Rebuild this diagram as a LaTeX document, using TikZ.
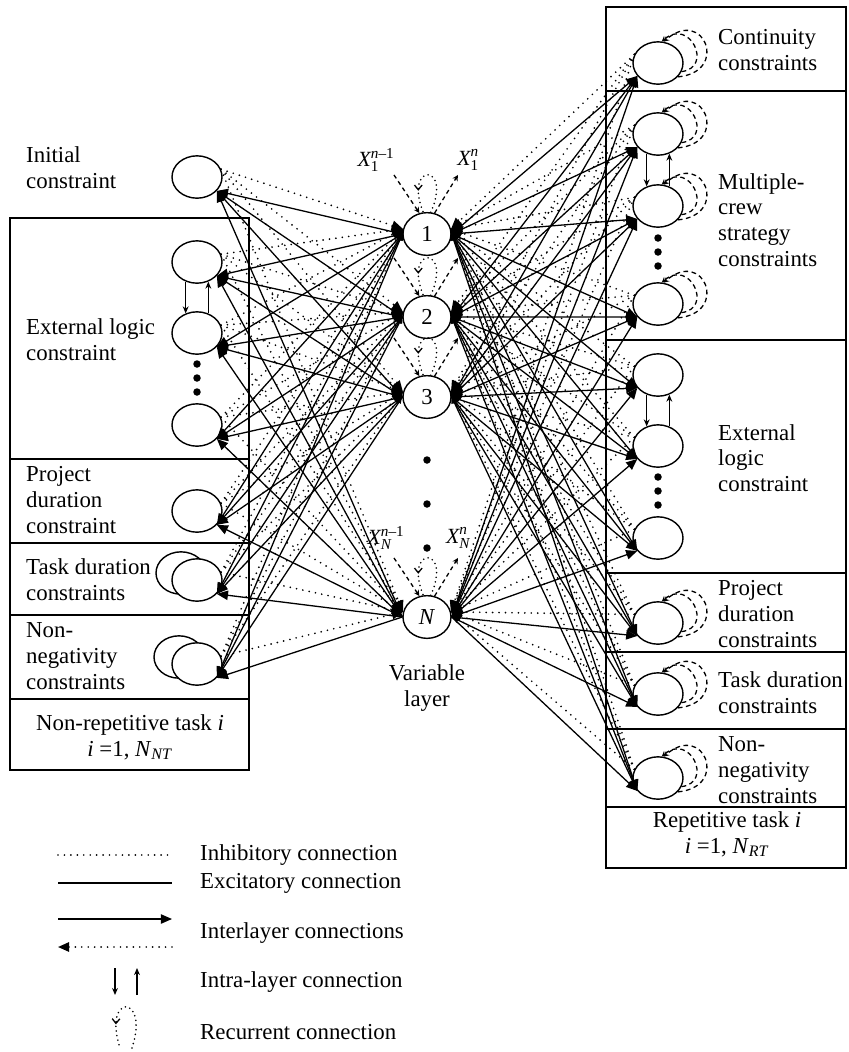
\documentclass[tikz,border=0pt]{standalone}
\usepackage{amsmath}
\usepackage{fontspec}
\setmainfont{Liberation Serif}
\usetikzlibrary{shapes.geometric,arrows.meta,decorations.markings}
\newcommand{\xlab}[2]{$\textit{X}^{#2}_{#1}$}
\begin{document}
\begin{tikzpicture}[x=0.03cm,y=-0.03cm,
  every node/.style={font=\fontsize{19.5}{22}\selectfont},
  unit/.style={ellipse,draw,line width=1.2pt,fill=white,inner sep=0pt,minimum width=1.5cm,minimum height=1.27cm},
  var/.style={unit,minimum width=1.44cm,minimum height=1.28cm},
  lbl/.style={align=left,anchor=west,inner sep=0pt},
  captext/.style={align=center,inner sep=0pt},
  xtext/.style={font=\fontsize{18.5}{21}\selectfont,inner sep=0pt},
  panel/.style={draw,line width=1.1pt},
  exc/.style={line width=1.1pt,-{Triangle[length=9.5pt,width=8pt]}},
  inh/.style={line width=1.6pt,line cap=round,dash pattern=on 0pt off 5.5pt,-{Triangle[length=9.5pt,width=8pt]}},
  intra/.style={line width=1.1pt,-{Stealth[length=6pt,width=5pt]}},
  selfloop/.style={line width=1.1pt,dash pattern=on 4pt off 3pt,-{Stealth[length=4.5pt,width=4.5pt]}},
  feed/.style={line width=1.1pt,dash pattern=on 3.5pt off 3pt,-{Stealth[length=5pt,width=5pt,open]}},
  recur/.style={line width=1.5pt,line cap=round,dash pattern=on 0pt off 4pt,
    decoration={markings,mark=at position 0.74 with {\arrow{Straight Barb[length=4pt,width=6.5pt,line width=1.1pt]}}},
    postaction={decorate}},
  bigdot/.style={fill=black}
]
\useasboundingbox (0,0) rectangle (849,1052);

% ---------- panels ----------
\draw[panel] (10,218) rectangle (249,770);
\foreach \yy in {459,543,615,699} \draw[panel] (10,\yy) -- (249,\yy);
\draw[panel] (606,7) rectangle (846,868);
\foreach \yy in {91,340,573,652,729,807} \draw[panel] (606,\yy) -- (846,\yy);

% ---------- non-repetitive task units ----------
\node[unit] (lInit) at (197,177) {};
\node[unit] (lE1) at (197,262) {};
\node[unit] (lE2) at (197,333) {};
\node[unit] (lE3) at (197,425) {};
\node[unit] (lPD) at (197,511) {};
\node[unit] (lTDb) at (181,573) {};
\node[unit] (lTD) at (197,580) {};
\node[unit] (lNNb) at (179,657) {};
\node[unit] (lNN) at (197,664) {};
\foreach \yy in {364,378,392} \fill[bigdot] (197,\yy) circle[radius=3.2pt];

\node[lbl] (tInit) at (26,168) {Initial\\constraint};
\node[lbl] (tLE) at (26,340) {External logic\\constraint};
\node[lbl] (tLP) at (26,500) {Project\\duration\\constraint};
\node[lbl] (tLT) at (26,580) {Task duration\\constraints};
\node[lbl] (tLN) at (26,656) {Non-\\negativity\\constraints};
\node[captext] (tLB) at (130,737) {Non-repetitive task \textit{i}\\\textit{i} =1, \textit{N}\textsubscript{\textit{NT}}};

% ---------- repetitive task units ----------
\node[unit] (rCo) at (658,63) {};
\node[unit] (rM1) at (658,134) {};
\node[unit] (rM2) at (658,206) {};
\node[unit] (rM3) at (658,304) {};
\node[unit] (rE1) at (658,375) {};
\node[unit] (rE2) at (658,446) {};
\node[unit] (rE3) at (658,538) {};
\node[unit] (rPD) at (658,623) {};
\node[unit] (rTD) at (658,694) {};
\node[unit] (rNN) at (658,778) {};
\foreach \yy in {238,252,266} \fill[bigdot] (658,\yy) circle[radius=3.2pt];
\foreach \yy in {477,491,505} \fill[bigdot] (658,\yy) circle[radius=3.2pt];

\node[lbl] (tRC) at (718,50) {Continuity\\constraints};
\node[lbl] (tRM) at (718,220) {Multiple-\\crew\\strategy\\constraints};
\node[lbl] (tRE) at (718,458) {External\\logic\\constraint};
\node[lbl] (tRP) at (718,614) {Project\\duration\\constraints};
\node[lbl] (tRT) at (718,693) {Task duration\\constraints};
\node[lbl] (tRN) at (718,770) {Non-\\negativity\\constraints};
\node[captext] (tRB) at (727,834) {Repetitive task \textit{i}\\\textit{i} =1, \textit{N}\textsubscript{\textit{RT}}};

% ---------- variable layer ----------
\node[var] (v1) at (427,234) {1};
\node[var] (v2) at (427,317) {2};
\node[var] (v3) at (427,397) {3};
\node[var] (vN) at (427,617) {\textit{N}};
\foreach \yy in {460,504,548} \fill[bigdot] (427,\yy) circle[radius=3.2pt];
\node[captext] (tVar) at (427,688) {Variable\\layer};

\node[xtext] (x1a) at (376,160) {\xlab{\textrm{1}}{\textit{n}\textrm{--1}}};
\node[xtext] (x1b) at (468,160) {\xlab{\textrm{1}}{\textit{n}}};
\node[xtext] (xNa) at (386,538) {\xlab{\textit{N}}{\textit{n}\textrm{--1}}};
\node[xtext] (xNb) at (458,538) {\xlab{\textit{N}}{\textit{n}}};

% ---------- recurrent connections of the variable units ----------
\foreach \v in {v1,v2,v3,vN}{
  \coordinate (\v-in) at ([shift={(-33,-37)}]\v.north);
  \coordinate (\v-out) at ([shift={(31,-37)}]\v.north);
  \draw[feed] (\v-in) -- (\v.110);
  \draw[feed] (\v.70) -- (\v-out);
  \draw[recur] (\v.80) .. controls +(22,-50) and +(-20,-50) .. (\v.100);
}

% ---------- self loops of repetitive task units ----------
\foreach \n in {rCo,rM1,rM2,rM3,rPD,rTD,rNN}{
  \draw[selfloop] (\n.-35) .. controls +(52,-5) and +(40,-35) .. (\n.75);
  \draw[selfloop] (\n.-20) .. controls +(32,-4) and +(28,-24) .. (\n.80);
}

% ---------- intra-layer connections ----------
\draw[intra] (lE1.240) -- (lE2.120);
\draw[intra] (lE2.60) -- (lE1.300);
\draw[intra] (rM1.240) -- (rM2.120);
\draw[intra] (rM2.60) -- (rM1.300);
\draw[intra] (rE1.240) -- (rE2.120);
\draw[intra] (rE2.60) -- (rE1.300);

% ---------- interlayer connections ----------
\foreach \v in {v1,v2,v3,vN}{
  \foreach \c in {lInit,lE1,lE2,lE3,lPD,lTD,lNN}{
    \draw[exc] (\v.west) -- (\c.-35);
    \draw[inh] (\c.18) -- (\v.168);
  }
  \foreach \c in {rCo,rM1,rM2,rM3,rE1,rE2,rE3,rPD,rTD,rNN}{
    \draw[exc] (\v.east) -- (\c.212);
    \draw[inh] (\c.160) -- (\v.12);
  }
}

% ---------- legend ----------
\coordinate (g1a) at (58,855);  \coordinate (g1b) at (172,855);
\coordinate (g2a) at (58,883);  \coordinate (g2b) at (172,883);
\coordinate (g3a) at (58,919);  \coordinate (g3b) at (172,919);
\coordinate (g4a) at (58,947);  \coordinate (g4b) at (172,947);
\coordinate (g5a) at (115,968); \coordinate (g5b) at (115,995);
\coordinate (g6a) at (137,995); \coordinate (g6b) at (137,968);
\draw[line width=1.6pt,line cap=round,dash pattern=on 0pt off 5.5pt] (g1a) -- (g1b);
\draw[line width=1.1pt] (g2a) -- (g2b);
\draw[exc] (g3a) -- (g3b);
\draw[inh] (g4b) -- (g4a);
\draw[intra] (g5a) -- (g5b);
\draw[intra] (g6a) -- (g6b);
\coordinate (g7a) at (132,1048); \coordinate (g7b) at (120,1048);
\draw[recur] (g7a) .. controls +(18,-55) and +(-18,-55) .. (g7b);

\node[lbl] (l1) at (200,855) {Inhibitory connection};
\node[lbl] (l2) at (200,883) {Excitatory connection};
\node[lbl] (l3) at (200,933) {Interlayer connections};
\node[lbl] (l4) at (200,982) {Intra-layer connection};
\node[lbl] (l5) at (200,1032) {Recurrent connection};
\end{tikzpicture}
\end{document}
